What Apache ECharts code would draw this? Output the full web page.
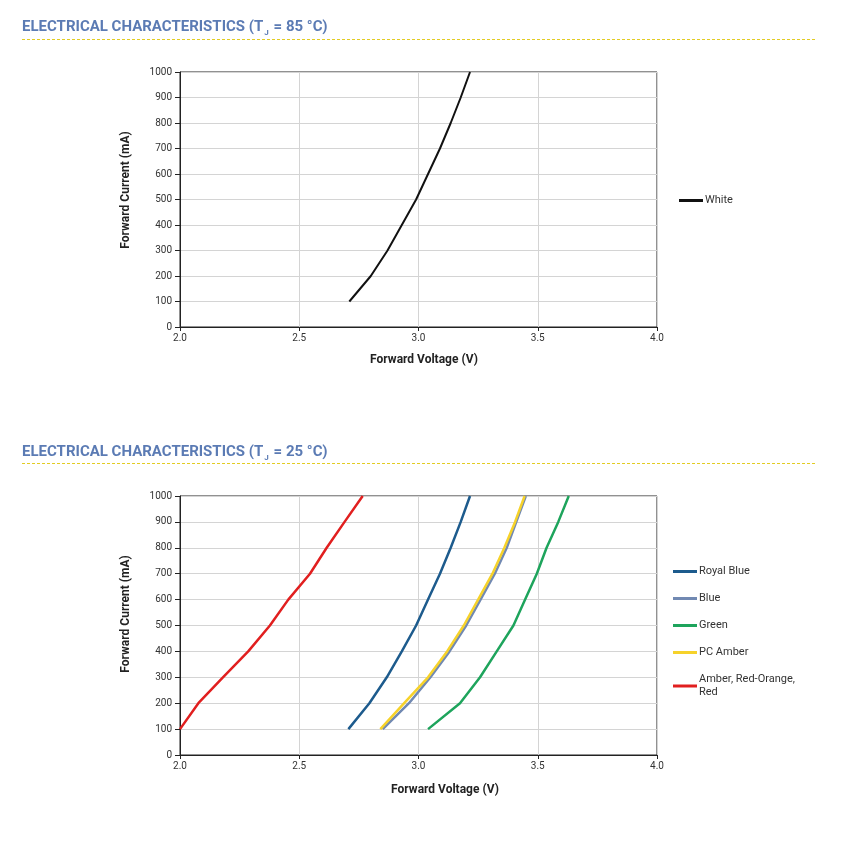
<!DOCTYPE html>
<html>
<head>
<meta charset="utf-8">
<script src="https://cdn.jsdelivr.net/npm/echarts@6/dist/echarts.min.js"></script>
<style>
  html, body { margin: 0; padding: 0; background: #fff; }
  #chart { width: 858px; height: 848px; }
</style>
</head>
<body>
<div id="chart"></div>
<script>
  // forward current levels (mA), same for every curve
  const currents = [100, 200, 300, 400, 500, 600, 700, 800, 900, 1000];

  // Tj = 85 °C
  const white85 = [2.71, 2.80, 2.87, 2.93, 2.99, 3.04, 3.09, 3.135, 3.177, 3.216];

  // Tj = 25 °C
  const royalBlue = [2.706, 2.794, 2.867, 2.93, 2.99, 3.04, 3.09, 3.135, 3.177, 3.216];
  const blue = [2.85, 2.96, 3.05, 3.13, 3.20, 3.26, 3.32, 3.37, 3.41, 3.45];
  const green = [3.04, 3.174, 3.258, 3.328, 3.398, 3.447, 3.496, 3.537, 3.586, 3.63];
  const pcAmber = [2.84, 2.94, 3.04, 3.12, 3.19, 3.25, 3.31, 3.36, 3.405, 3.445];
  const amberRed = [2.0, 2.077, 2.18, 2.286, 2.377, 2.454, 2.545, 2.615, 2.69, 2.766];

  const font = 'Roboto, "Noto Sans", sans-serif';
  const titleColor = '#5b7bb4';

  function pts(volts) {
    return volts.map((v, i) => [v, currents[i]]);
  }

  function xAx(gridIndex, namePad, gap) {
    return {
      gridIndex: gridIndex,
      type: 'value',
      min: 2, max: 4, interval: 0.5,
      name: 'Forward Voltage (V)',
      nameLocation: 'middle',
      nameGap: gap,
      nameTextStyle: { fontFamily: font, fontSize: 12, fontWeight: 'bold', color: '#222', padding: [0, 0, 0, namePad] },
      axisLine: { lineStyle: { color: '#222', width: 1 } },
      axisTick: { show: true, length: 4, lineStyle: { color: '#222' } },
      axisLabel: { fontFamily: font, fontSize: 10, color: '#333', margin: 6, formatter: v => v.toFixed(1) },
      splitLine: { show: true, lineStyle: { color: '#d4d4d4', width: 1 } }
    };
  }

  function yAx(gridIndex, namePad) {
    return {
      gridIndex: gridIndex,
      type: 'value',
      min: 0, max: 1000, interval: 100,
      name: 'Forward Current (mA)',
      nameLocation: 'middle',
      nameGap: 48,
      nameTextStyle: { fontFamily: font, fontSize: 12, fontWeight: 'bold', color: '#222', padding: [0, 0, 0, namePad] },
      axisLine: { show: true, lineStyle: { color: '#222', width: 1 } },
      axisTick: { show: true, length: 5, lineStyle: { color: '#222' } },
      axisLabel: { fontFamily: font, fontSize: 10, color: '#333', margin: 8, formatter: v => String(v) },
      splitLine: { show: true, lineStyle: { color: '#d4d4d4', width: 1 } }
    };
  }

  function line(name, data, color, idx, width) {
    return {
      name: name,
      type: 'line',
      xAxisIndex: idx, yAxisIndex: idx,
      data: pts(data),
      showSymbol: false,
      symbol: 'none',
      smooth: false,
      lineStyle: { color: color, width: width },
      itemStyle: { color: color },
      emphasis: { disabled: true },
      silent: true
    };
  }

  function leg(name, top, extra) {
    return {
      data: [name],
      left: 668, top: top,
      orient: 'vertical',
      icon: 'rect',
      itemWidth: 24, itemHeight: 3,
      selectedMode: false,
      textStyle: Object.assign({ fontFamily: font, fontSize: 11, color: '#333', padding: [0, 0, 0, -3] }, extra || {})
    };
  }

  function title(y, temp) {
    return {
      type: 'text',
      left: 22, top: y,
      style: {
        text: '{a|ELECTRICAL CHARACTERISTICS (T}{s|J}{a| = ' + temp + ' °C)}',
        rich: {
          a: { fontFamily: font, fontSize: 15, fontWeight: 'bold', fill: titleColor, lineHeight: 18 },
          s: { fontFamily: font, fontSize: 8, fontWeight: 'bold', fill: titleColor, lineHeight: 6, verticalAlign: 'bottom', padding: [0, 1, 0, 1] }
        }
      }
    };
  }

  function dash(y) {
    return {
      type: 'line',
      shape: { x1: 22, y1: y, x2: 815, y2: y },
      style: { stroke: '#e2cc22', lineWidth: 1, lineDash: [3, 2] }
    };
  }

  const chart = echarts.init(document.getElementById('chart'));
  chart.setOption({
    animation: false,
    backgroundColor: '#fff',
    graphic: [title(20, 85), dash(39.5), title(445, 25), dash(463.5)],
    grid: [
      { left: 180, top: 72, width: 477, height: 255, show: true, borderColor: '#222', borderWidth: 1, backgroundColor: 'transparent' },
      { left: 180, top: 496, width: 477, height: 259, show: true, borderColor: '#222', borderWidth: 1, backgroundColor: 'transparent' }
    ],
    xAxis: [xAx(0, 11, 27), xAx(1, 53, 29)],
    yAxis: [yAx(0, 19), yAx(1, 23)],
    legend: [
      Object.assign(leg('White', 190), { left: 674 }),
      leg('Royal Blue', 561),
      leg('Blue', 588),
      leg('Green', 615),
      leg('PC Amber', 642),
      Object.assign(leg('Amber, Red-Orange, Red', 668, { lineHeight: 13 }), {
        formatter: n => n.replace('Red-Orange, ', 'Red-Orange,\n')
      })
    ],
    series: [
      line('White', white85, '#111111', 0, 2),
      line('Royal Blue', royalBlue, '#1d5b8d', 1, 2.5),
      line('Blue', blue, '#7189b2', 1, 2.5),
      line('Green', green, '#1ea45c', 1, 2.5),
      line('PC Amber', pcAmber, '#f6d22a', 1, 2.5),
      line('Amber, Red-Orange, Red', amberRed, '#e11f1f', 1, 2.5)
    ]
  });
</script>
</body>
</html>
